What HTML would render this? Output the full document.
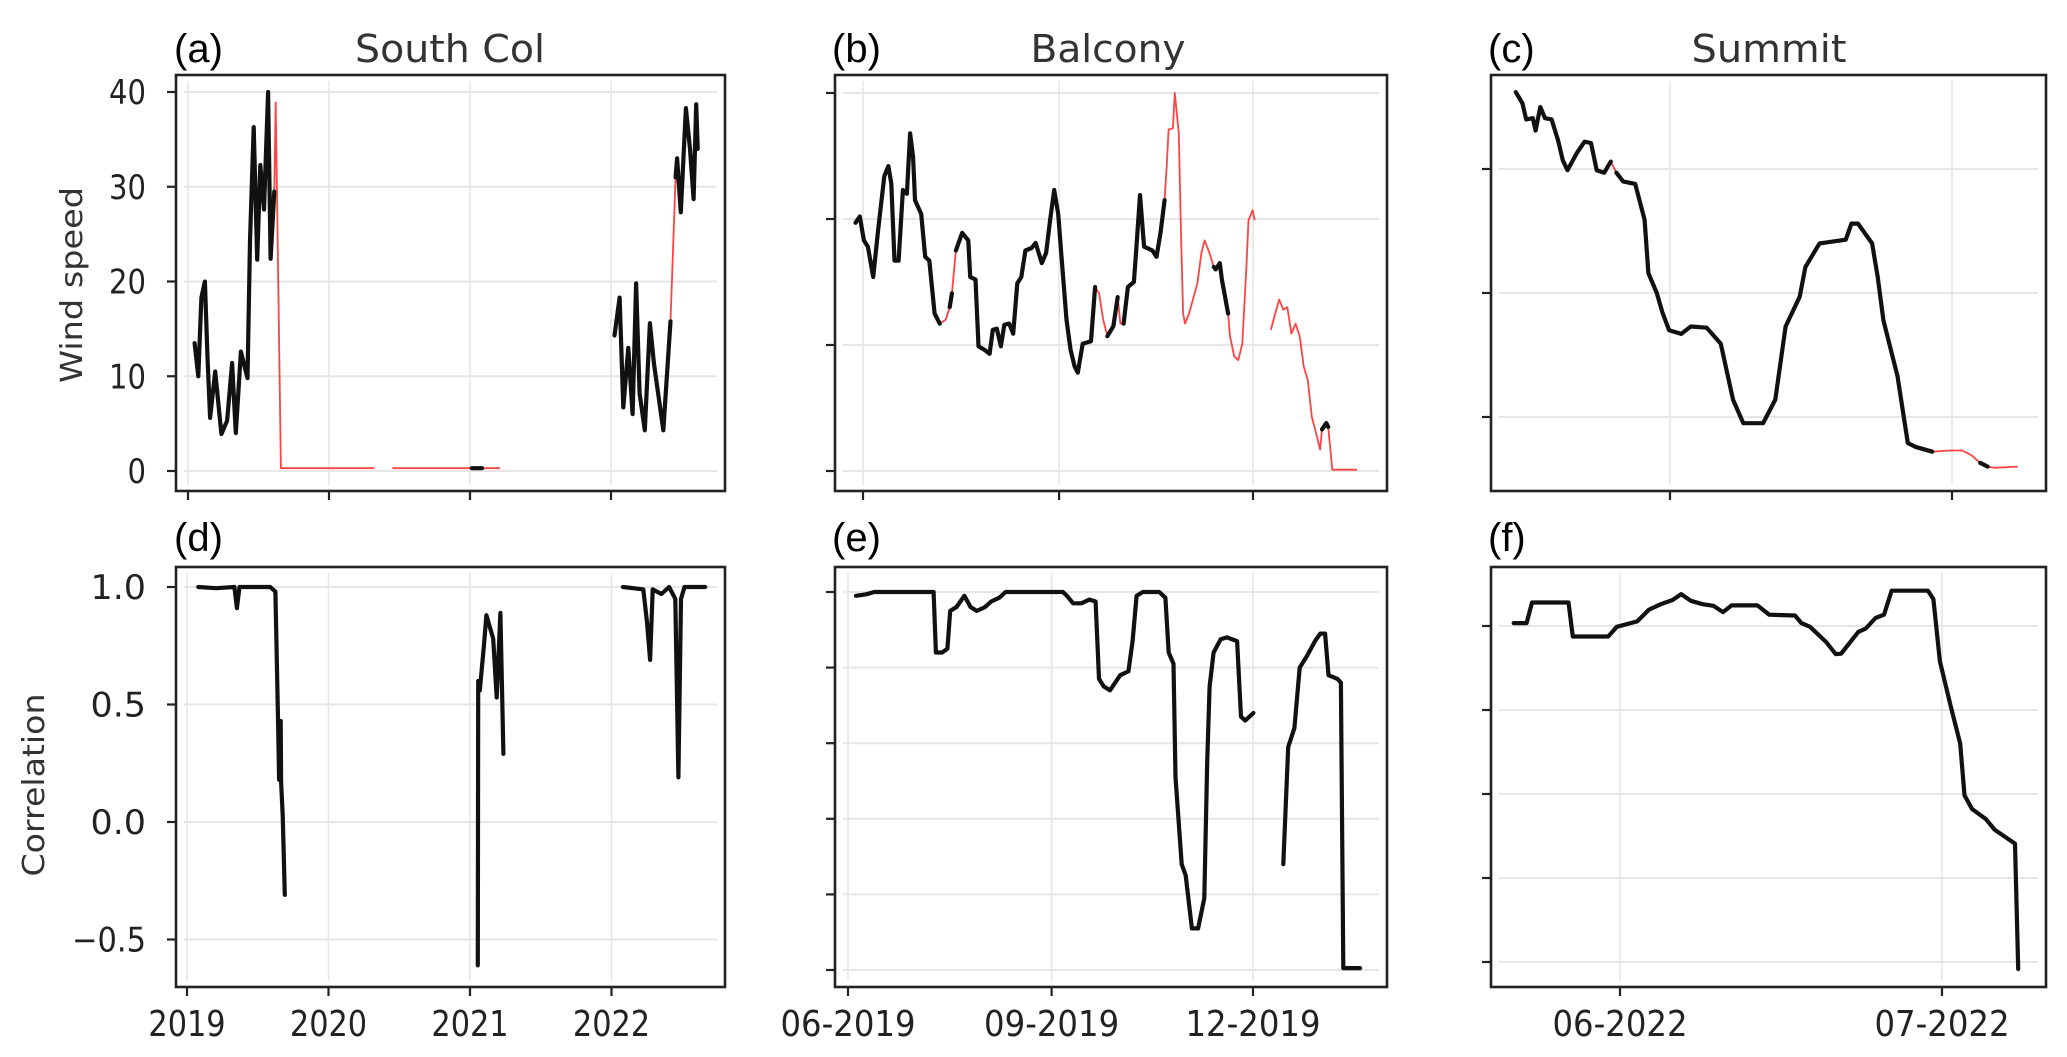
<!DOCTYPE html>
<html><head><meta charset="utf-8"><style>
html,body{margin:0;padding:0;background:#fff;}
svg{display:block;font-family:"DejaVu Sans","Liberation Sans",sans-serif;}
</style></head><body>
<svg id="fig" width="2067" height="1057" viewBox="0 0 2067 1057" xmlns="http://www.w3.org/2000/svg">
<rect width="2067" height="1057" fill="#fff"/>
<text x="174" y="62" font-size="40" font-family="Liberation Sans, sans-serif" fill="#000">(a)</text>
<text x="832" y="62" font-size="40" font-family="Liberation Sans, sans-serif" fill="#000">(b)</text>
<text x="1488" y="62" font-size="40" font-family="Liberation Sans, sans-serif" fill="#000">(c)</text>
<text x="174" y="551" font-size="40" font-family="Liberation Sans, sans-serif" fill="#000">(d)</text>
<text x="832" y="551" font-size="40" font-family="Liberation Sans, sans-serif" fill="#000">(e)</text>
<text x="1488" y="551" font-size="40" font-family="Liberation Sans, sans-serif" fill="#000">(f)</text>
<text x="450" y="62" font-size="38" text-anchor="middle" fill="#333" textLength="190" lengthAdjust="spacingAndGlyphs">South Col</text>
<text x="1108" y="62" font-size="38" text-anchor="middle" fill="#333" textLength="155" lengthAdjust="spacingAndGlyphs">Balcony</text>
<text x="1769" y="62" font-size="38" text-anchor="middle" fill="#333" textLength="155" lengthAdjust="spacingAndGlyphs">Summit</text>
<text transform="translate(82,285) rotate(-90)" font-size="30" text-anchor="middle" fill="#333" textLength="196" lengthAdjust="spacingAndGlyphs">Wind speed</text>
<text transform="translate(44,785) rotate(-90)" font-size="30" text-anchor="middle" fill="#333" textLength="183" lengthAdjust="spacingAndGlyphs">Correlation</text>
<g id="plots"></g>
</svg>
<script>
const aYears = [2019.047,2019.073,2019.095,2019.120,2019.138,2019.157,2019.193,2019.237,2019.277,2019.313,2019.339,2019.375,2019.422,2019.440,2019.466,2019.491,2019.513,2019.539,2019.568,2019.586,2019.612,2019.622,2019.659,2020.321,null,2020.449,2021.013,2021.086,2021.213,null,2022.025,2022.061,2022.087,2022.123,2022.153,2022.178,2022.203,2022.240,2022.276,2022.305,2022.371,2022.422,2022.458,2022.469,2022.495,2022.531,2022.560,2022.586,2022.604,2022.615];
const aWind  = [13.5,10,18.3,20,12,5.6,10.5,3.9,5.3,11.4,4,12.6,9.8,24.3,36.3,22.3,32.3,27.6,40,22.4,29.5,38.9,0.3,0.3,null,0.3,0.3,0.3,0.3,null,14.3,18.3,6.7,13,6,19.8,8.2,4.3,15.6,11.3,4.3,15.8,31,33,27.3,38.3,34,28.7,38.7,34];
const aColor = ['k','k','k','k','k','k','k','k','k','k','k','k','k','k','k','k','k','k','k','k','k','r','r','r',null,'r','r','k','r',null,'k','k','k','k','k','k','k','k','k','k','k','k','r','k','k','k','k','k','k','k'];
const dYears = [2019.08,2019.207,2019.335,2019.353,2019.371,2019.498,2019.589,2019.625,2019.644,2019.651,2019.662,2019.665,2019.676,2019.691,null,2021.055,2021.058,2021.069,2021.098,2021.116,2021.164,2021.189,2021.215,2021.236,null,2022.08,2022.225,2022.251,2022.273,2022.291,2022.353,2022.407,2022.451,2022.473,2022.491,2022.516,2022.662];
const dCorr  = [1.0,0.995,1.0,0.91,1.0,1.0,1.0,0.98,0.42,0.18,0.43,0.17,0.03,-0.31,null,-0.61,0.6,0.56,0.75,0.88,0.78,0.53,0.89,0.29,null,1.0,0.99,0.85,0.69,0.99,0.97,1.0,0.95,0.19,0.95,1.0,1.0];
const bDays = [-3.5,-1.5,0.4,2.3,4.8,7.1,10.0,11.9,13.3,14.8,16.7,18.7,20.6,22.1,23.5,24.4,27.3,29.2,31.1,33.6,36.0,38.8,40.7,41.7,43.6,46.5,49.4,50.3,52.8,54.2,57.1,59.4,60.9,62.8,64.7,66.3,68.6,70.5,72.4,74.3,76.2,79.1,81.0,83.9,85.9,87.8,89.7,91.6,93.5,95.5,97.4,99.3,100.8,103.1,107.0,108.9,110.8,112.7,114.7,117.5,119.5,120.8,122.3,124.3,127.1,128.1,130.0,131.9,135.8,137.7,139.6,141.5,142.5,143.4,145.4,146.3,148.2,149.2,150.2,151.1,153.0,156.9,158.8,160.3,162.6,164.6,165.5,167.4,168.4,171.3,172.2,174.2,176.1,178.0,179.9,180.9,182.8,183.8,null,191.4,193.4,195.3,197.2,199.1,201.0,203.0,204.9,206.8,208.7,210.6,212.6,214.5,215.4,217.4,218.3,219.3,220.2,231.8];
const bWind = [19.7,20.2,18.3,17.8,15.4,19.1,23.4,24.2,22.8,16.7,16.7,22.3,22.0,26.8,24.9,21.5,20.4,17.0,16.7,12.5,11.7,12.0,13.0,14.1,17.5,18.9,18.3,15.4,15.2,9.9,9.6,9.3,11.2,11.3,9.9,11.6,11.7,10.9,14.9,15.4,17.5,17.7,18.1,16.5,17.3,19.9,22.3,20.4,16.2,12.0,9.6,8.3,7.8,10.1,10.3,14.6,14.1,12.0,10.7,11.5,13.8,11.7,11.7,14.6,15.0,17.3,21.9,17.8,17.5,17.0,18.9,21.5,24.2,27.1,27.2,30.0,26.8,18.9,12.5,11.7,12.5,14.9,17.3,18.3,17.3,16.2,16.0,16.5,15.2,12.5,10.7,9.1,8.8,10.1,16.2,19.9,20.7,19.9,null,11.2,12.5,13.6,12.8,13.0,10.9,11.7,10.7,8.3,7.2,4.3,3.0,1.7,3.3,3.8,3.5,1.7,0.1,0.1];
const bColor = ['k','k','k','k','k','k','k','k','k','k','k','k','k','k','k','k','k','k','k','k','k','r','r','k','r','k','k','k','k','k','k','k','k','k','k','k','k','k','k','k','k','k','k','k','k','k','k','k','k','k','k','k','k','k','k','k','r','r','r','k','k','r','r','k','k','k','k','k','k','k','k','k','r','r','r','r','r','r','r','r','r','r','r','r','r','r','k','k','k','k','r','r','r','r','r','r','r','r',null,'r','r','r','r','r','r','r','r','r','r','r','r','r','r','k','k','r','r','r'];
const eDays = [3.6,8.2,11.9,24.9,38.7,39.7,42.5,44.9,46.2,49.0,52.6,55.4,58.2,61.9,64.7,68.4,71.2,80.4,87.8,97.1,98.9,101.7,105.4,109.1,111.9,113.4,115.6,118.4,123.0,126.7,128.6,130.4,133.2,140.6,143.4,144.9,147.1,148.0,150.8,152.6,155.4,158.2,161.0,162.3,163.4,165.2,168.4,171.2,175.8,177.6,179.5,183.2,null,196.7,198.9,201.7,204.1,207.3,211.0,213.4,215.6,217.1,221.2,222.7,223.8,231.4];
const eCorr = [0.99,0.994,1.0,1.0,1.0,0.84,0.84,0.85,0.95,0.96,0.99,0.96,0.95,0.96,0.975,0.985,1.0,1.0,1.0,1.0,0.99,0.97,0.97,0.98,0.975,0.77,0.75,0.74,0.78,0.79,0.87,0.99,1.0,1.0,0.985,0.84,0.81,0.51,0.28,0.25,0.11,0.11,0.19,0.55,0.75,0.84,0.875,0.88,0.87,0.67,0.66,0.68,null,0.28,0.59,0.64,0.80,0.83,0.87,0.89,0.89,0.78,0.77,0.76,0.005,0.005];
const cDays = [14.6,15.3,15.7,16.4,16.7,17.2,17.7,18.4,19.1,19.6,20.1,21.1,21.9,22.6,23.2,24.0,24.7,25.3,26.0,27.3,28.3,28.7,29.6,30.2,30.9,32.2,33.2,34.9,36.4,37.7,38.8,40.9,42.2,43.3,44.8,45.4,46.9,49.7,50.3,51.0,52.5,53.1,53.7,55.2,56.3,57.1,58.9,60.8,62.1,63.1,64.0,64.8,65.5,68.0];
const cWind = [36.2,35.3,34.0,34.1,33.1,35.0,34.1,34.0,32.3,30.7,29.9,31.3,32.2,32.1,29.9,29.7,30.6,29.7,29.0,28.8,25.9,21.6,20.0,18.4,17.0,16.7,17.3,17.2,15.9,11.4,9.5,9.5,11.4,17.3,19.7,22.1,24.0,24.3,25.6,25.6,24.0,21.3,17.8,13.3,7.9,7.6,7.2,7.3,7.3,6.9,6.3,6.0,5.9,6.0];
const cColor = ['k','k','k','k','k','k','k','k','k','k','k','k','k','k','k','k','k','r','k','k','k','k','k','k','k','k','k','k','k','k','k','k','k','k','k','k','k','k','k','k','k','k','k','k','k','k','k','r','r','r','r','k','r','r'];
const fDays = [21.1,22.3,22.8,26.2,26.6,29.9,30.7,32.6,33.7,34.8,35.9,36.7,37.6,38.7,39.7,40.6,41.4,43.8,44.9,47.3,47.9,48.7,50.2,51.1,51.6,53.2,53.9,54.8,55.6,56.3,59.7,60.2,60.8,61.8,62.7,63.1,63.8,65.1,65.9,67.8,68.1];
const fCorr = [0.807,0.807,0.856,0.856,0.775,0.775,0.798,0.811,0.839,0.852,0.862,0.876,0.860,0.852,0.848,0.833,0.849,0.849,0.827,0.825,0.807,0.798,0.762,0.733,0.734,0.786,0.794,0.819,0.827,0.884,0.884,0.864,0.716,0.610,0.520,0.397,0.364,0.340,0.315,0.282,-0.017];
const aYTicks = [0,10,20,30,40];
const aYTickLabels = ['0','10','20','30','40'];
const dYTicks = [-0.5,0,0.5,1.0];
const dYTickLabels = ['\u22120.5','0.0','0.5','1.0'];
const yearTicks = [2019,2020,2021,2022];
const yearTickLabels = ['2019','2020','2021','2022'];
const bYTicks = [0,10,20,30];
const eYTicks = [0,0.2,0.4,0.6,0.8,1.0];
const cYTicks = [10,20,30];
const fYTicks = [0,0.2,0.4,0.6,0.8];
const balconyTicks = [0,92,183];
const balconyTickLabels = ['06-2019','09-2019','12-2019'];
const summitTicks = [31,61];
const summitTickLabels = ['06-2022','07-2022'];

const NS = 'http://www.w3.org/2000/svg';
const plotRoot = document.getElementById('plots');
function mk(tag, attrs, parent) {
  const e = document.createElementNS(NS, tag);
  for (const k in attrs) e.setAttribute(k, attrs[k]);
  (parent || plotRoot).appendChild(e);
  return e;
}
function linear(d0, d1, r0, r1) { return v => r0 + (v - d0) * (r1 - r0) / (d1 - d0); }

function panel(name, box, X, Y, xt, xl, yt, yl, xs, ys, cs) {
  const g = mk('g', {});
  
  
  xt.forEach(t => {
    const gl = mk('line', {x1: X(t), x2: X(t), y1: box.y0 + 6, y2: box.y1 - 6, stroke: '#e6e6e6', 'stroke-width': 1.6}, g);
    
    
  });
  yt.forEach(t => {
    const gl = mk('line', {x1: box.x0 + 8, x2: box.x1 - 8, y1: Y(t), y2: Y(t), stroke: '#e6e6e6', 'stroke-width': 2}, g);
    
    
  });
  let cur = null; const runs = [];
  for (let i = 0; i < xs.length; i++) {
    if (xs[i] == null || ys[i] == null) { cur = null; continue; }
    const px = X(xs[i]).toFixed(1), py = Y(ys[i]).toFixed(1);
    const col = cs ? cs[i] : 'k';
    if (i > 0 && xs[i-1] != null && ys[i-1] != null) {
      if (!cur || cur.c !== col) {
        cur = {c: col, d: 'M' + X(xs[i-1]).toFixed(1) + ',' + Y(ys[i-1]).toFixed(1)};
        runs.push(cur);
      }
      cur.d += 'L' + px + ',' + py;
    }
  }
  runs.filter(r => r.c === 'r').forEach(r => {
    const p = mk('path', {d: r.d, fill: 'none', stroke: 'rgba(255,20,20,0.8)', 'stroke-width': 1.8, 'stroke-linejoin': 'round'}, g);
    
    
  });
  runs.filter(r => r.c === 'k').forEach(r => {
    const p = mk('path', {d: r.d, fill: 'none', stroke: '#111', 'stroke-width': 4.2, 'stroke-linejoin': 'round', 'stroke-linecap': 'round'}, g);
    
    
  });
  const fr = mk('rect', {x: box.x0, y: box.y0, width: box.x1 - box.x0, height: box.y1 - box.y0, fill: 'none', stroke: '#222', 'stroke-width': 2.6}, g);
  
  
  xt.forEach((t, i) => {
    const tk = mk('line', {x1: X(t), x2: X(t), y1: box.y1, y2: box.y1 + 9, stroke: '#222', 'stroke-width': 2.2}, g);
    
    
    if (xl) {
      const tx = mk('text', {x: X(t), y: box.y1 + 49, 'font-size': 36, 'text-anchor': 'middle', fill: '#222', textLength: xl[i].length * 19.3, lengthAdjust: 'spacingAndGlyphs'}, g);
      tx.textContent = xl[i];
      
      
    }
  });
  yt.forEach((t, i) => {
    const tk = mk('line', {x1: box.x0 - 9, x2: box.x0, y1: Y(t), y2: Y(t), stroke: '#222', 'stroke-width': 2.2}, g);
    
    
    if (yl) {
      const tx = mk('text', {x: box.x0 - 30, y: Y(t) + 12, 'font-size': 34, 'text-anchor': 'end', fill: '#222', textLength: yl[i].length * 18.5, lengthAdjust: 'spacingAndGlyphs'}, g);
      tx.textContent = yl[i];
      
      
    }
  });
}

const topRow = {y0: 75, y1: 491}, botRow = {y0: 567, y1: 987};
const colA = {x0: 176, x1: 725}, colB = {x0: 835, x1: 1387}, colC = {x0: 1491, x1: 2046};

panel('panel-a-south-col-wind', Object.assign({}, colA, topRow), linear(2019, 2020, 188, 329), linear(0, 40, 471, 92), yearTicks, null, aYTicks, aYTickLabels, aYears, aWind, aColor);
panel('panel-b-balcony-wind', Object.assign({}, colB, topRow), linear(0, 183, 863, 1253), linear(0, 30, 471, 93), balconyTicks, null, bYTicks, null, bDays, bWind, bColor);
panel('panel-c-summit-wind', Object.assign({}, colC, topRow), linear(31, 61, 1670, 1952), linear(10, 30, 417, 169), summitTicks, null, cYTicks, null, cDays, cWind, cColor);
panel('panel-d-south-col-corr', Object.assign({}, colA, botRow), linear(2019, 2020, 187, 328.5), linear(0, 1, 822, 587), yearTicks, yearTickLabels, dYTicks, dYTickLabels, dYears, dCorr, null);
panel('panel-e-balcony-corr', Object.assign({}, colB, botRow), linear(0, 183, 848, 1253), linear(0, 1, 970, 592), balconyTicks, balconyTickLabels, eYTicks, null, eDays, eCorr, null);
panel('panel-f-summit-corr', Object.assign({}, colC, botRow), linear(31, 61, 1620, 1942), linear(0, 0.8, 962, 626), summitTicks, summitTickLabels, fYTicks, null, fDays, fCorr, null);
</script>
</body></html>
